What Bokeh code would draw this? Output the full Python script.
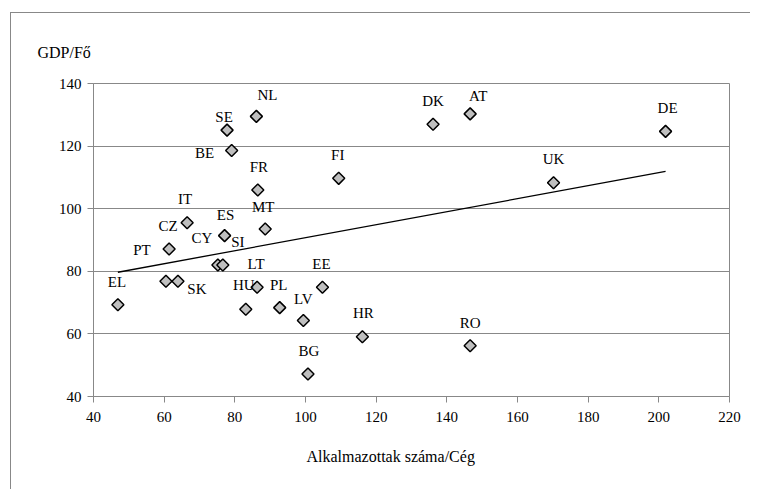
from bokeh.plotting import figure
from bokeh.models import Range1d, ColumnDataSource, FixedTicker, Title
from bokeh.layouts import column
from bokeh.core.properties import value
from bokeh.embed import file_html
from bokeh.resources import INLINE
import math

# ---- data ----
countries = ["EL", "PT", "CZ", "IT", "SK", "CY", "SI", "ES", "MT", "FR", "BE", "SE", "NL",
             "HU", "LT", "PL", "LV", "BG", "EE", "HR", "RO", "FI", "DK", "AT", "UK", "DE"]
employees_per_firm = [46.9, 60.5, 61.4, 66.5, 63.9, 75.2, 76.6, 77.1, 88.6, 86.5, 79.1, 77.8, 86.1,
                      83.1, 86.3, 92.7, 99.4, 100.7, 104.8, 116.1, 146.6, 109.4, 136.1, 146.6, 170.2, 201.9]
gdp_per_capita = [69.3, 76.8, 87.1, 95.5, 76.8, 82.0, 82.0, 91.4, 93.5, 106.0, 118.6, 125.1, 129.5,
                  67.9, 74.9, 68.4, 64.3, 47.2, 74.9, 59.1, 56.2, 109.7, 127.0, 130.3, 108.3, 124.7]
trend_x = [46.9, 201.9]
trend_y = [79.7, 111.9]
x_ticks = [40, 60, 80, 100, 120, 140, 160, 180, 200, 220]
y_ticks = [40, 60, 80, 100, 120, 140]
x_title = "Alkalmazottak száma/Cég"
y_title = "GDP/Fő"

# ---- label placement (screen px offsets, layout only) ----
label_offsets = {
    "EL": (-1, -23), "PT": (-24, -31), "CZ": (-1, -23), "IT": (-2, -24), "SK": (19, 8),
    "CY": (-16, -27), "SI": (15, -23), "ES": (1, -21), "MT": (-2, -22), "FR": (1, -23),
    "BE": (-27, 3), "SE": (-3, -13), "NL": (11, -21), "HU": (-2, -24), "LT": (-1, -23),
    "PL": (-1, -23), "LV": (0, -21), "BG": (1, -23), "EE": (-1, -23), "HR": (1, -24),
    "RO": (0, -23), "FI": (-1, -23), "DK": (0, -23), "AT": (8, -18), "UK": (0, -24),
    "DE": (2, -23),
}

FONT = "'Liberation Serif'"
GRAY = "#888888"

src = ColumnDataSource(dict(
    x=employees_per_firm, y=gdp_per_capita, name=countries,
    dx=[label_offsets[c][0] for c in countries],
    dy=[label_offsets[c][1] for c in countries],
))

p = figure(width=739, height=476, output_backend="svg", toolbar_location=None,
           x_range=Range1d(40, 220), y_range=Range1d(40, 140),
           min_border_left=82, min_border_right=21, min_border_top=70, min_border_bottom=93)

p.background_fill_color = "white"
p.border_fill_color = "white"
p.outline_line_color = GRAY
p.outline_line_width = 1

# grid
p.xgrid.grid_line_color = None
p.ygrid.grid_line_color = GRAY
p.ygrid.grid_line_width = 1

for ax in (p.xaxis[0], p.yaxis[0]):
    ax.axis_line_color = GRAY
    ax.major_tick_line_color = GRAY
    ax.major_tick_out = 6
    ax.major_tick_in = 0
    ax.minor_tick_line_color = None
    ax.major_label_text_font = FONT
    ax.major_label_text_font_size = "15px"
    ax.major_label_text_color = "black"

p.xaxis[0].ticker = FixedTicker(ticks=x_ticks)
p.yaxis[0].ticker = FixedTicker(ticks=y_ticks)
p.xaxis[0].major_label_standoff = 9
p.yaxis[0].major_label_standoff = 6

# y title at top-left
p.add_layout(Title(text=y_title, align="left", offset=-56, standoff=45,
                   text_font=FONT, text_font_size="16px", text_font_style="normal",
                   text_color="black"), "above")

# x title below, left of centre as in the reference
p.add_layout(Title(text=x_title, align="left", offset=213, standoff=42,
                   text_font=FONT, text_font_size="16px", text_font_style="normal",
                   text_color="black"), "below")

# trend line
p.line(trend_x, trend_y, line_color="black", line_width=1.3)

# points
p.scatter("x", "y", source=src, marker="square", size=8.5, angle=math.pi / 4,
          fill_color="#BFBFBF", line_color="black", line_width=1.5)

# labels
p.text("x", "y", text="name", source=src, x_offset="dx", y_offset="dy",
       text_font=value(FONT), text_font_size="15px", text_color="black",
       text_align="center", text_baseline="middle")

# outer chart border (cut by the window on the right and bottom)
layout = column(p, margin=(12, 0, 0, 10),
                styles={"border-left": "1px solid #888888", "border-top": "1px solid #888888"})

open("out.html", "w").write(file_html(layout, INLINE))
